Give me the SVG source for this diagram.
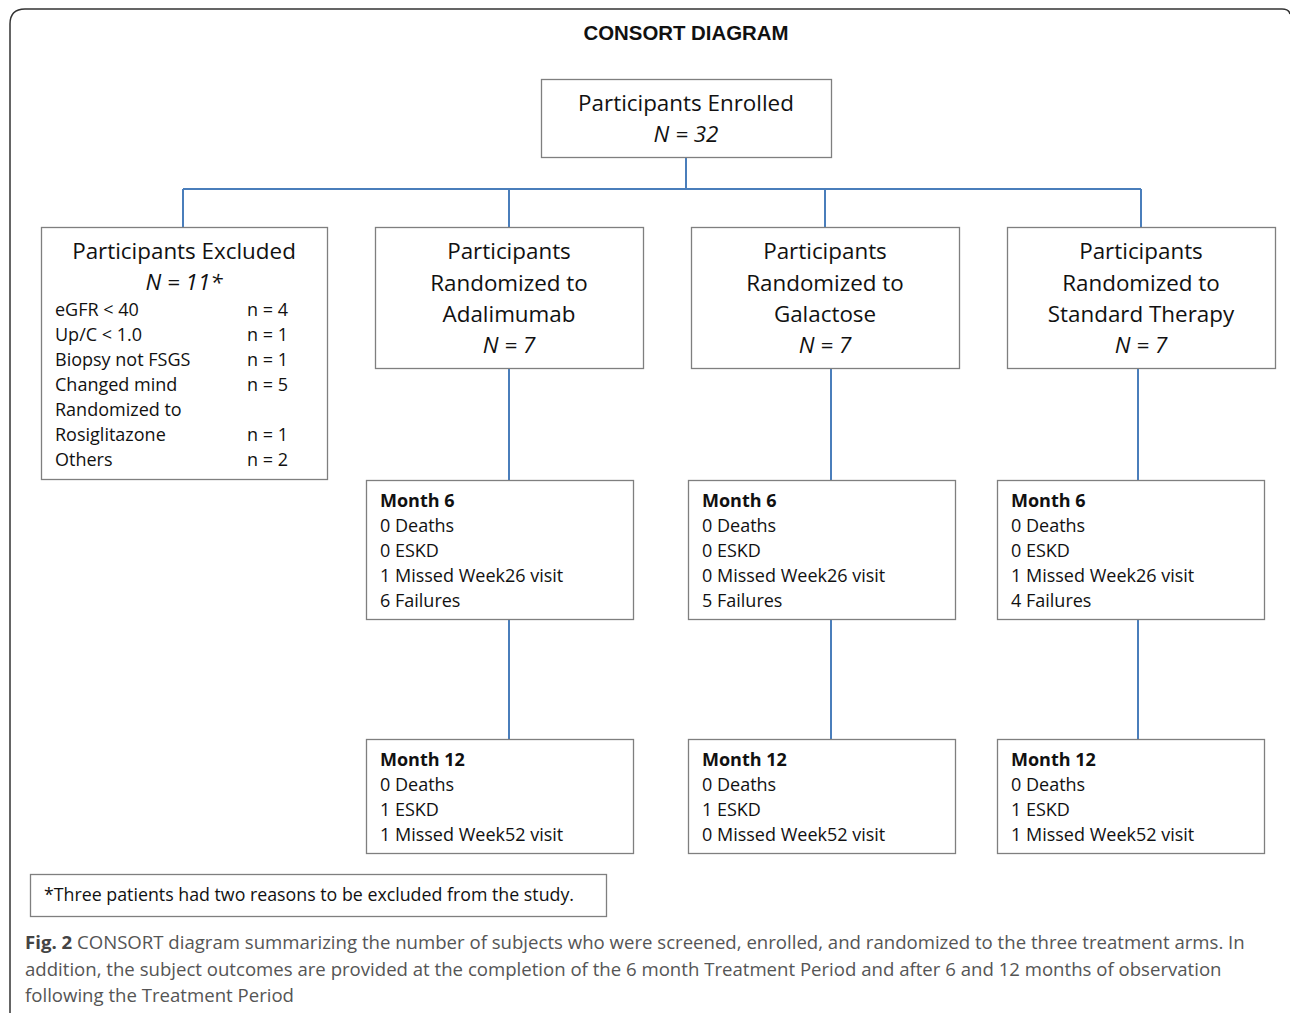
<svg xmlns="http://www.w3.org/2000/svg" width="1290" height="1013" viewBox="0 0 1290 1013">
<style>
.box{fill:#fff;stroke:#7f7f7f;stroke-width:1.3}
.con{stroke:#4a7ebb;stroke-width:2;fill:none}
.t{font-family:"Open Sans","Noto Sans",sans-serif;fill:#111}
.big{font-size:22.4px}
.sm{font-size:18px}
.it{font-style:italic}
.b{font-weight:bold}
.cap{font-family:"Open Sans","Noto Sans",sans-serif;font-size:18.6px;fill:#555}
</style>
<rect width="1290" height="1013" fill="#fff"/>
<path d="M10 1013 L10 24 Q10 9 25 9 L1282 9 Q1289 9 1290 14" fill="none" stroke="#333" stroke-width="1.5"/>
<text x="686" y="40" text-anchor="middle" font-family="Liberation Sans,Arial,sans-serif" font-weight="bold" font-size="20.4" fill="#111">CONSORT DIAGRAM</text>
<g id="connectors">
<path class="con" d="M686 157 V189 M183 189 H1141 M183 189 V227 M509 189 V227 M825 189 V227 M1141 189 V227"/>
<path class="con" d="M509 368 V480 M831 368 V480 M1138 368 V480"/>
<path class="con" d="M509 619 V739 M831 619 V739 M1138 619 V739"/>
</g>
<g id="enrolled">
<rect class="box" x="541.5" y="79.5" width="290" height="78"/>
<text class="t big" x="686" y="111" text-anchor="middle">Participants Enrolled</text>
<text class="t big it" x="686" y="142" text-anchor="middle">N = 32</text>
</g>
<g id="excluded">
<rect class="box" x="41.5" y="227.5" width="286" height="252"/>
<text class="t big" x="184" y="259" text-anchor="middle">Participants Excluded</text>
<text class="t big it" x="184" y="290" text-anchor="middle">N = 11*</text>
<g class="t sm">
<text x="55" y="316">eGFR &lt; 40</text><text x="247" y="316">n = 4</text>
<text x="55" y="341">Up/C &lt; 1.0</text><text x="247" y="341">n = 1</text>
<text x="55" y="366">Biopsy not FSGS</text><text x="247" y="366">n = 1</text>
<text x="55" y="391">Changed mind</text><text x="247" y="391">n = 5</text>
<text x="55" y="416">Randomized to</text>
<text x="55" y="441">Rosiglitazone</text><text x="247" y="441">n = 1</text>
<text x="55" y="466">Others</text><text x="247" y="466">n = 2</text>
</g>
</g>
<g id="adalimumab">
<rect class="box" x="375.5" y="227.5" width="268" height="141"/>
<g class="t big" text-anchor="middle">
<text x="509" y="259">Participants</text>
<text x="509" y="291">Randomized to</text>
<text x="509" y="322">Adalimumab</text>
<text x="509" y="353" class="it">N = 7</text>
</g>
</g>
<g id="galactose">
<rect class="box" x="691.5" y="227.5" width="268" height="141"/>
<g class="t big" text-anchor="middle">
<text x="825" y="259">Participants</text>
<text x="825" y="291">Randomized to</text>
<text x="825" y="322">Galactose</text>
<text x="825" y="353" class="it">N = 7</text>
</g>
</g>
<g id="standard">
<rect class="box" x="1007.5" y="227.5" width="268" height="141"/>
<g class="t big" text-anchor="middle">
<text x="1141" y="259">Participants</text>
<text x="1141" y="291">Randomized to</text>
<text x="1141" y="322">Standard Therapy</text>
<text x="1141" y="353" class="it">N = 7</text>
</g>
</g>
<g id="ada-m6">
<rect class="box" x="366.5" y="480.5" width="267" height="139"/>
<g class="t sm">
<text x="380" y="507" class="b">Month 6</text>
<text x="380" y="532">0 Deaths</text>
<text x="380" y="557">0 ESKD</text>
<text x="380" y="582">1 Missed Week26 visit</text>
<text x="380" y="607">6 Failures</text>
</g>
</g>
<g id="gal-m6">
<rect class="box" x="688.5" y="480.5" width="267" height="139"/>
<g class="t sm">
<text x="702" y="507" class="b">Month 6</text>
<text x="702" y="532">0 Deaths</text>
<text x="702" y="557">0 ESKD</text>
<text x="702" y="582">0 Missed Week26 visit</text>
<text x="702" y="607">5 Failures</text>
</g>
</g>
<g id="std-m6">
<rect class="box" x="997.5" y="480.5" width="267" height="139"/>
<g class="t sm">
<text x="1011" y="507" class="b">Month 6</text>
<text x="1011" y="532">0 Deaths</text>
<text x="1011" y="557">0 ESKD</text>
<text x="1011" y="582">1 Missed Week26 visit</text>
<text x="1011" y="607">4 Failures</text>
</g>
</g>
<g id="ada-m12">
<rect class="box" x="366.5" y="739.5" width="267" height="114"/>
<g class="t sm">
<text x="380" y="766" class="b">Month 12</text>
<text x="380" y="791">0 Deaths</text>
<text x="380" y="816">1 ESKD</text>
<text x="380" y="841">1 Missed Week52 visit</text>
</g>
</g>
<g id="gal-m12">
<rect class="box" x="688.5" y="739.5" width="267" height="114"/>
<g class="t sm">
<text x="702" y="766" class="b">Month 12</text>
<text x="702" y="791">0 Deaths</text>
<text x="702" y="816">1 ESKD</text>
<text x="702" y="841">0 Missed Week52 visit</text>
</g>
</g>
<g id="std-m12">
<rect class="box" x="997.5" y="739.5" width="267" height="114"/>
<g class="t sm">
<text x="1011" y="766" class="b">Month 12</text>
<text x="1011" y="791">0 Deaths</text>
<text x="1011" y="816">1 ESKD</text>
<text x="1011" y="841">1 Missed Week52 visit</text>
</g>
</g>
<g id="footnote">
<rect class="box" x="30.5" y="874.5" width="576" height="42"/>
<text class="t" font-size="17.8" x="44" y="901">*Three patients had two reasons to be excluded from the study.</text>
</g>
<g id="caption">
<text class="cap" x="25" y="949"><tspan font-weight="bold" fill="#444">Fig. 2</tspan> CONSORT diagram summarizing the number of subjects who were screened, enrolled, and randomized to the three treatment arms. In</text>
<text class="cap" x="25" y="976">addition, the subject outcomes are provided at the completion of the 6 month Treatment Period and after 6 and 12 months of observation</text>
<text class="cap" x="25" y="1002">following the Treatment Period</text>
</g>
</svg>
